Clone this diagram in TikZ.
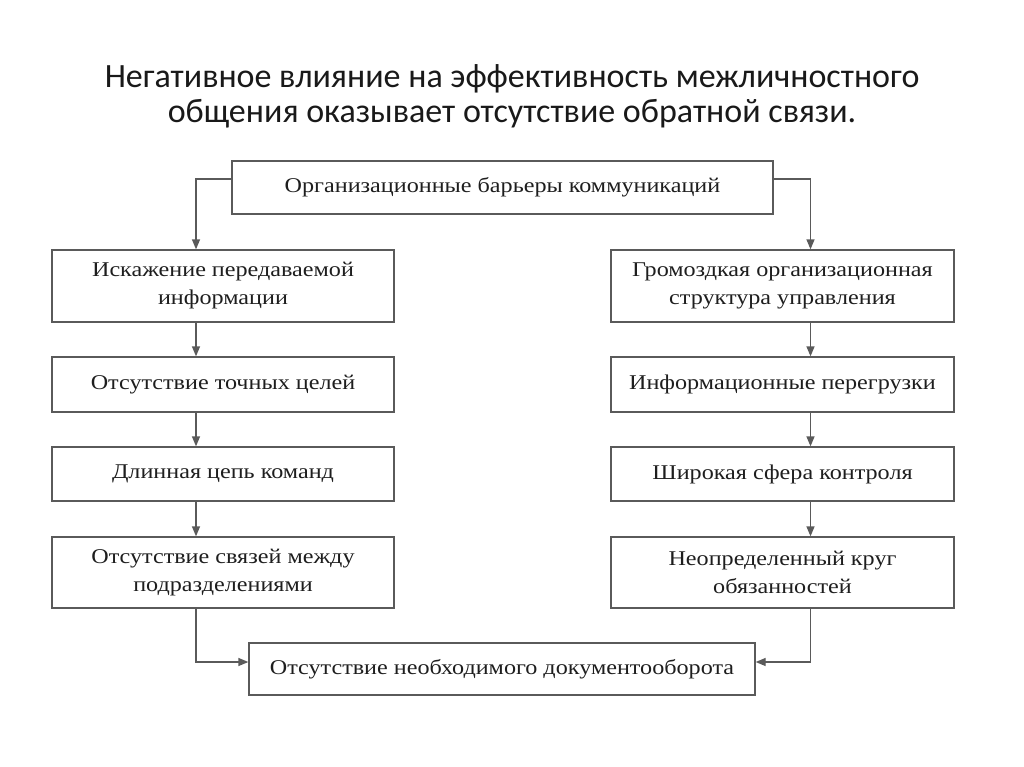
\documentclass[tikz,border=0pt]{standalone}
\usepackage{fontspec}
\setmainfont{Liberation Serif}
\newfontfamily\boxfont{Liberation Serif}[FakeStretch=1.15]
\newfontfamily\titlefont{Carlito}
\usetikzlibrary{arrows.meta, positioning}
\definecolor{linegray}{HTML}{5A5A5A}
\definecolor{textgray}{HTML}{1E1E1E}

\begin{document}
\begin{tikzpicture}[x=1pt, y=-1pt,
  box/.style={draw=linegray, line width=1.3pt, inner sep=0pt, align=center,
    text=textgray, font=\boxfont\fontsize{21}{28}\selectfont},
  arr/.style={draw=linegray, line width=1.3pt, -{Triangle[length=10pt, width=8pt]}}]
\useasboundingbox (0,0) rectangle (1024,767);

% заголовок
\node[align=center, text=black!90, font=\titlefont\fontsize{34}{35}\selectfont] (title) at (512,96)
  {Негативное влияние на эффективность межличностного\\общения оказывает отсутствие обратной связи.};

% верхний блок
\node[box, minimum width=541pt, minimum height=53pt] (barriers) at (502.5,187.5) {Организационные барьеры коммуникаций};

% левая колонка
\node[box, minimum width=342pt, minimum height=72pt] (distort) at (223,286) {Искажение передаваемой\\информации};
\node[box, minimum width=342pt, minimum height=55pt] (goals) at (223,384.5) {Отсутствие точных целей};
\node[box, minimum width=342pt, minimum height=54pt] (chain) at (223,474) {Длинная цепь команд};
\node[box, minimum width=342pt, minimum height=71pt] (links) at (223,572.5) {Отсутствие связей между\\подразделениями};

% правая колонка
\node[box, minimum width=343pt, minimum height=72pt] (bulky) at (782.5,286) {Громоздкая организационная\\структура управления};
\node[box, minimum width=343pt, minimum height=55pt] (overload) at (782.5,384.5) {Информационные перегрузки};
\node[box, minimum width=343pt, minimum height=54pt] (control) at (782.5,474) {Широкая сфера контроля};
\node[box, minimum width=343pt, minimum height=71pt] (duties) at (782.5,572.5) {Неопределенный круг\\обязанностей};

% нижний блок
\node[box, minimum width=506pt, minimum height=52pt] (docflow) at (502,669) {Отсутствие необходимого документооборота};

% стрелки
\draw[arr] ([yshift=8.5pt]barriers.west) -| ([xshift=-27pt]distort.north);
\draw[arr] ([yshift=8.5pt]barriers.east) -| ([xshift=28pt]bulky.north);
\foreach \a/\b in {distort/goals, goals/chain, chain/links}
  \draw[arr] ([xshift=-27pt]\a.south) -- ([xshift=-27pt]\b.north);
\foreach \a/\b in {bulky/overload, overload/control, control/duties}
  \draw[arr] ([xshift=28pt]\a.south) -- ([xshift=28pt]\b.north);
\draw[arr] ([xshift=-27pt]links.south) |- ([yshift=7pt]docflow.west);
\draw[arr] ([xshift=28pt]duties.south) |- ([yshift=7pt]docflow.east);
\end{tikzpicture}
\end{document}
